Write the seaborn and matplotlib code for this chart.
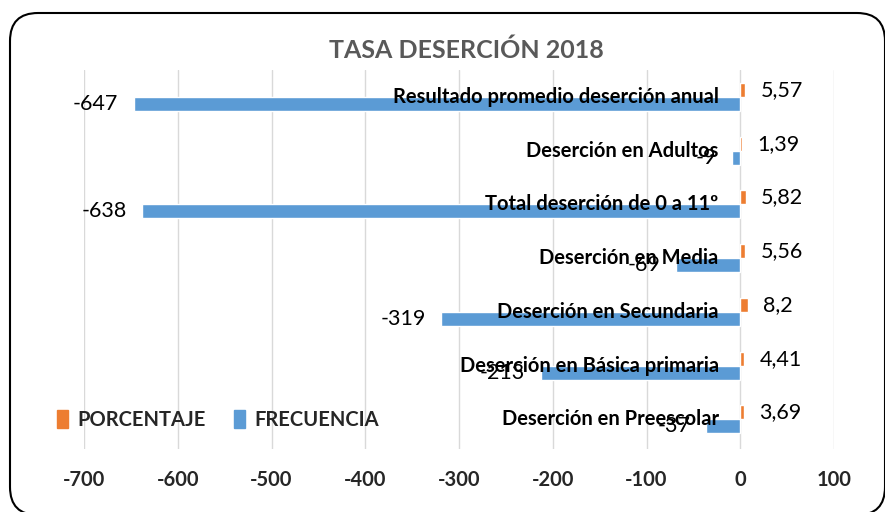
import matplotlib
matplotlib.use("Agg")
import matplotlib.pyplot as plt
import matplotlib.patches as mpatches
import matplotlib.transforms as mtransforms
import pandas as pd
import seaborn as sns

# Data (top to bottom)
categories = [
    "Resultado promedio deserción anual",
    "Deserción en Adultos",
    "Total deserción de 0 a 11º",
    "Deserción en Media",
    "Deserción en Secundaria",
    "Deserción en Básica primaria",
    "Deserción en Preescolar",
]
porcentaje = [5.57, 1.39, 5.82, 5.56, 8.2, 4.41, 3.69]
frecuencia = [-647, -9, -638, -69, -319, -213, -37]
x_ticks = [-700, -600, -500, -400, -300, -200, -100, 0, 100]

df = pd.DataFrame({
    "Categoria": categories * 2,
    "Valor": porcentaje + frecuencia,
    "Serie": ["PORCENTAJE"] * len(categories) + ["FRECUENCIA"] * len(categories),
})

sns.set_style("white")
plt.rcParams["font.family"] = ["Lato", "DejaVu Sans"]

blue = "#5B9BD5"
orange = "#ED7D31"

fig = plt.figure(figsize=(8.85, 5.12), dpi=100)
ax = fig.add_axes([84 / 885, 1 - 449 / 512, 750 / 885, 379 / 512])

sns.barplot(data=df, y="Categoria", x="Valor", hue="Serie",
            hue_order=["PORCENTAJE", "FRECUENCIA"], order=categories,
            palette=[orange, blue], orient="h", width=0.52,
            saturation=1, ax=ax, legend=True)

# value labels
def fmt(v):
    return str(v).replace(".", ",")

ax.bar_label(ax.containers[0], labels=[fmt(v) for v in porcentaje],
             padding=11, fontsize=15.5, color="#000000", zorder=6)
ax.bar_label(ax.containers[1], labels=[fmt(v) for v in frecuencia],
             padding=11, fontsize=15.5, color="#000000", zorder=6)

ax.set_xlim(-700, 100)
ax.set_ylim(6.55, -0.5)
ax.set_xticks(x_ticks)
ax.set_xticklabels([str(t) for t in x_ticks], fontweight="bold", fontsize=14.5)
ax.grid(axis="x", color="#D9D9D9", linewidth=1)
ax.set_axisbelow(True)
ax.set_xlabel("")
ax.set_ylabel("")
ax.set_yticks([])

# category labels hang off the zero line like Excel does, drawn over the bars
for i, cat in enumerate(categories):
    ax.annotate(cat, xy=(0, i), xytext=(-15.5, 0), textcoords="offset points",
                ha="right", va="center", fontsize=14.5, fontweight="bold",
                color="#000000", zorder=5)

for s in ["left", "right", "top", "bottom"]:
    ax.spines[s].set_visible(False)
ax.tick_params(axis="x", length=0, pad=15)

ax.legend_.remove()
handles = [mpatches.Patch(color=orange), mpatches.Patch(color=blue)]
fig.legend(handles, ["PORCENTAJE", "FRECUENCIA"], loc="center left",
           bbox_to_anchor=(39 / 885, 1 - 420 / 512), ncol=2, frameon=False,
           prop={"weight": "bold", "size": 14.5}, handlelength=0.55,
           handleheight=1.0, handletextpad=0.45, columnspacing=1.4)

fig.text(466 / 885, 1 - 50 / 512, "TASA DESERCIÓN 2018", ha="center",
         va="center", fontsize=18, fontweight="bold", color="#595959")

# rounded chart border
frame = mpatches.FancyBboxPatch((10, -3), 875, 502,
                                boxstyle="round,pad=0,rounding_size=28",
                                transform=mtransforms.IdentityTransform(),
                                fill=False, edgecolor="black", linewidth=1.5)
fig.add_artist(frame)

fig.savefig("out.png", dpi=100)
